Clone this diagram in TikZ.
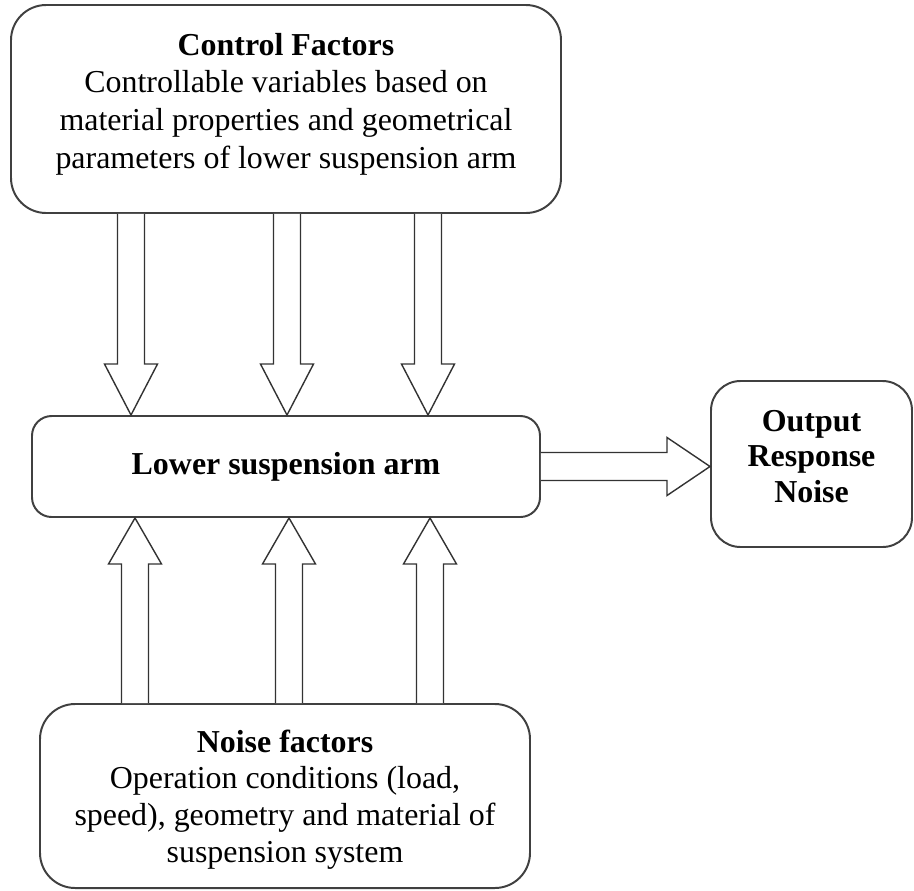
\documentclass[tikz,border=0pt]{standalone}
\usepackage{fontspec}
\setmainfont{Liberation Serif}
\usetikzlibrary{calc}
\tikzset{
  box/.style={draw=black!75, line width=1.4pt, rounded corners=#1, align=center,
    inner sep=0pt, font=\fontsize{22.7}{26.8}\selectfont},
  box/.default=25pt,
  fat/.style={draw=black!80, line width=1pt, fill=white, line join=miter},
}
\begin{document}
\begin{tikzpicture}[x=0.025cm,y=-0.025cm]
  \useasboundingbox (0,0) rectangle (914,890);
  % boxes
  \node[box, minimum width=550*0.025cm, minimum height=208*0.025cm, text depth=12pt] (ctrl) at (286,109)
    {\textbf{Control Factors}\\ Controllable variables based on\\ material properties and geometrical\\ parameters of lower suspension arm};
  \node[box=14pt, minimum width=508*0.025cm, minimum height=101*0.025cm] (arm) at (286,466.5)
    {\textbf{Lower suspension arm}};
  \node[box=21pt, minimum width=201*0.025cm, minimum height=166*0.025cm, text depth=11pt,
    font=\fontsize{22.7}{25}\selectfont] (out) at (811.5,464)
    {\textbf{Output}\\ \textbf{Response}\\ \textbf{Noise}};
  \node[box, minimum width=490*0.025cm, minimum height=184*0.025cm, text depth=0pt,
    font=\fontsize{22.7}{26}\selectfont] (noise) at (285,796)
    {\textbf{Noise factors}\\ Operation conditions (load,\\ speed), geometry and material of\\ suspension system};
  % arrows down
  \foreach \x in {131,287,428}
    \draw[fat] ($(\x,0 |- ctrl.south)+(-13.5,0)$) -- ($(\x,0 |- arm.north)+(-13.5,-51)$)
      -- ++(-13,0) -- (\x,0 |- arm.north) -- ++(26.5,-51) -- ++(-13,0)
      -- ($(\x,0 |- ctrl.south)+(13.5,0)$);
  % arrows up
  \foreach \x in {135,289,430}
    \draw[fat] ($(\x,0 |- noise.north)+(-13.5,0)$) -- ($(\x,0 |- arm.south)+(-13.5,46)$)
      -- ++(-13,0) -- (\x,0 |- arm.south) -- ++(26.5,46) -- ++(-13,0)
      -- ($(\x,0 |- noise.north)+(13.5,0)$);
  % arrow right
  \draw[fat] ($(arm.east)+(0,-14)$) -- ($(out.west |- arm.east)+(-43,-14)$)
    -- ++(0,-15) -- (out.west |- arm.east) -- ++(-43,29) -- ++(0,-15)
    -- ($(arm.east)+(0,14)$);
\end{tikzpicture}
\end{document}
